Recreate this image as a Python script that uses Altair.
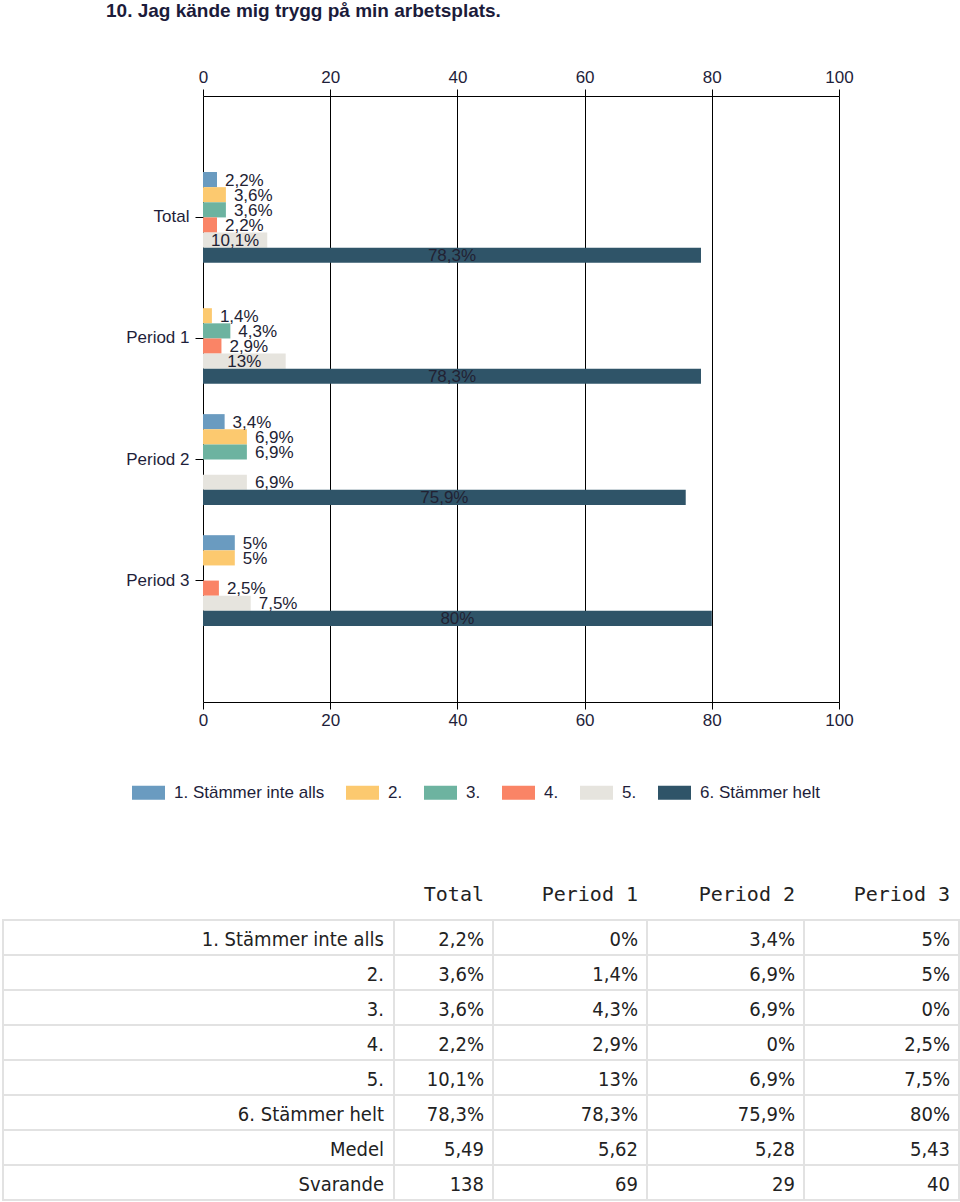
import altair as alt
import pandas as pd

TITLE = "10. Jag kände mig trygg på min arbetsplats."
groups = ["Total", "Period 1", "Period 2", "Period 3"]
answers = ["1. Stämmer inte alls", "2.", "3.", "4.", "5.", "6. Stämmer helt"]
total = [2.2, 3.6, 3.6, 2.2, 10.1, 78.3]
period1 = [0, 1.4, 4.3, 2.9, 13, 78.3]
period2 = [3.4, 6.9, 6.9, 0, 6.9, 75.9]
period3 = [5, 5, 0, 2.5, 7.5, 80]
medel = [5.49, 5.62, 5.28, 5.43]
svarande = [138, 69, 29, 40]
x_ticks = [0, 20, 40, 60, 80, 100]

colors = ["#6a9bc0", "#fcc96f", "#6db3a0", "#fa8466", "#e6e4de", "#2f5468"]
TXT = "#1e1e3a"
SANS = "Liberation Sans"

def pct(v):
    return f"{v:g}".replace(".", ",") + "%"

series = [total, period1, period2, period3]
rows = []
for g, vals in zip(groups, series):
    for a, v in zip(answers, vals):
        rows.append({"group": g, "answer": a, "value": v, "label": pct(v)})
bar_df = pd.DataFrame(rows)

# table data
row_names = answers + ["Medel", "Svarande"]
trows = []
for ci, (g, vals) in enumerate(zip(groups, series)):
    for a, v in zip(answers, vals):
        trows.append({"row": a, "col": g, "text": pct(v)})
    trows.append({"row": "Medel", "col": g, "text": f"{medel[ci]:.2f}".replace(".", ",")})
    trows.append({"row": "Svarande", "col": g, "text": str(svarande[ci])})
table_df = pd.DataFrame(trows)
rowlab_df = pd.DataFrame({"row": row_names})
head_df = pd.DataFrame({"col": groups})

W, H = 636, 606

def xs():
    return alt.Scale(domain=[0, 100], nice=False, zero=True)

def ys():
    return alt.Scale(type="band", domain=groups, paddingInner=0.25, paddingOuter=0.628)

def yos():
    return alt.Scale(type="band", domain=answers, paddingInner=0, paddingOuter=0)

axis_common = dict(
    values=x_ticks, title=None, labelFont=SANS, labelFontSize=17, labelColor=TXT,
    domainColor="black", tickColor="black", tickSize=7, labelPadding=3, labelFlush=False,
)

bars = alt.Chart(bar_df).mark_bar().encode(
    x=alt.X("value:Q", scale=xs(), axis=alt.Axis(orient="bottom", grid=True, gridColor="black",
                                                 gridOpacity=1, gridWidth=1, **axis_common)),
    y=alt.Y("group:N", scale=ys(), sort=groups,
            axis=alt.Axis(orient="left", title=None, domain=False, tickColor="black", tickSize=8,
                          labelPadding=6, labelFont=SANS, labelFontSize=17, labelColor=TXT)),
    yOffset=alt.YOffset("answer:N", scale=yos(), sort=answers),
    color=alt.Color("answer:N", scale=alt.Scale(domain=answers, range=colors), sort=answers,
                    legend=alt.Legend(orient="none", legendX=-71, legendY=680, direction="horizontal",
                                      columns=6, title=None, symbolType="M-1,-0.424H1V0.424H-1Z",
                                      symbolSize=1089, symbolStrokeWidth=0, symbolOpacity=1,
                                      labelFont=SANS, labelFontSize=17, labelColor=TXT,
                                      labelOffset=9, columnPadding=21)),
)

lab_in = alt.Chart(bar_df).transform_filter("datum.value >= 9").transform_calculate(
    mid="datum.value / 2").mark_text(align="center", baseline="middle", font=SANS, fontSize=17,
                                     color="#222233", dy=1).encode(
    x=alt.X("mid:Q", scale=xs(), axis=None),
    y=alt.Y("group:N", scale=ys(), sort=groups, axis=None),
    yOffset=alt.YOffset("answer:N", scale=yos(), sort=answers),
    text="label:N",
)

lab_out = alt.Chart(bar_df).transform_filter("datum.value > 0 && datum.value < 9").mark_text(
    align="left", baseline="middle", font=SANS, fontSize=17, color="#222233", dx=8, dy=1).encode(
    x=alt.X("value:Q", scale=xs(), axis=alt.Axis(orient="top", grid=False, **axis_common)),
    y=alt.Y("group:N", scale=ys(), sort=groups, axis=None),
    yOffset=alt.YOffset("answer:N", scale=yos(), sort=answers),
    text="label:N",
)

# ---- table layout (pixels relative to plot origin) ----
col_edges = [-200, 191, 290, 444, 601, 756]   # cell borders
row_scale = alt.Scale(type="band", domain=row_names, range=[824, 1104], paddingInner=0, paddingOuter=0)
TFONT = "'DejaVu Sans Condensed', 'Open Sans', sans-serif"
HFONT = "'DejaVu Sans Mono', monospace"

layers = [bars, lab_in, lab_out]
for i in range(5):
    layers.append(alt.Chart(rowlab_df).mark_rect(fill="white", stroke="#e2e2e2", strokeWidth=2).encode(
        x=alt.value(col_edges[i]), x2=alt.value(col_edges[i + 1]),
        y=alt.Y("row:N", scale=row_scale, sort=row_names, axis=None),
    ))
layers.append(alt.Chart(rowlab_df).mark_text(align="right", baseline="middle", font=TFONT,
                                             fontSize=20, color="#222222", dy=2).encode(
    x=alt.value(col_edges[1] - 10),
    y=alt.Y("row:N", scale=row_scale, sort=row_names, axis=None),
    text="row:N",
))
for ci, g in enumerate(groups):
    layers.append(alt.Chart(table_df).transform_filter(alt.datum.col == g).mark_text(
        align="right", baseline="middle", font=TFONT, fontSize=20, color="#222222", dy=2).encode(
        x=alt.value(col_edges[ci + 2] - 9),
        y=alt.Y("row:N", scale=row_scale, sort=row_names, axis=None),
        text="text:N",
    ))
    layers.append(alt.Chart(head_df).transform_filter(alt.datum.col == g).mark_text(
        align="right", baseline="middle", font=HFONT, fontSize=20, color="#222222").encode(
        x=alt.value(col_edges[ci + 2] - 9),
        y=alt.value(799),
        text="col:N",
    ))

chart = alt.layer(*layers).resolve_scale(
    x="independent", y="independent", yOffset="independent"
).properties(
    width=W, height=H,
    title=alt.TitleParams(TITLE, anchor="start", frame="group", dx=-97, font=SANS, fontSize=19,
                          fontWeight="bold", color="#1b1b3a", offset=47),
    padding={"left": 2, "top": 2, "right": 0, "bottom": 0},
    background="white",
).configure_view(stroke=None)

chart.save("out.html", embed_options={"renderer": "svg", "actions": False})
